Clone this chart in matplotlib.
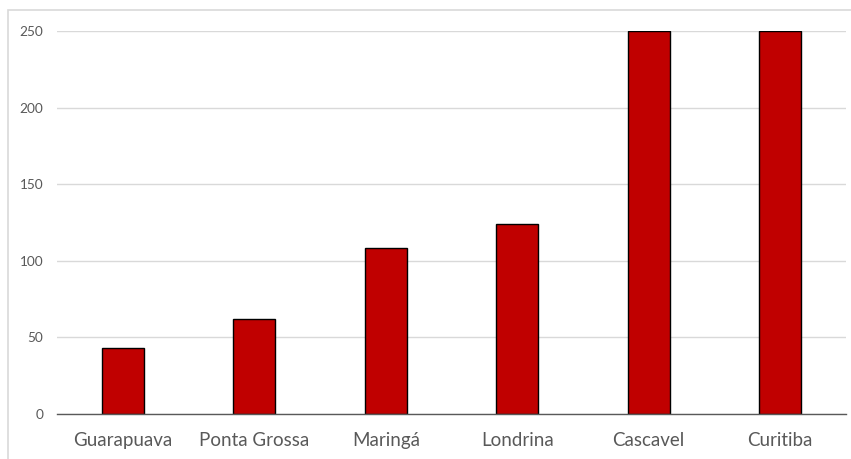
import matplotlib.pyplot as plt
from matplotlib.patches import Rectangle

cidades = ["Guarapuava", "Ponta Grossa", "Maringá", "Londrina", "Cascavel", "Curitiba"]
valores = [43, 62, 108.5, 124, 250, 250]
yticks = [0, 50, 100, 150, 200, 250]

W, H = 851, 459
fig = plt.figure(figsize=(W / 100, H / 100), dpi=100)
plt.rcParams['font.family'] = ['Lato', 'DejaVu Sans']

# moldura cinza clara (cortada na direita e embaixo)
fig.patches.append(Rectangle((8 / W, -0.1), 2, 1.1 - 10 / H, transform=fig.transFigure,
                             fill=False, edgecolor="#d9d9d9", linewidth=1.2))

ax = fig.add_axes([57.3 / W, 1 - 414 / H, (845.7 - 57.3) / W, (414 - 31) / H])
x = range(len(cidades))
ax.bar(x, valores, width=0.32, color="#C00000", edgecolor="black", linewidth=1, zorder=3)

ax.set_xlim(-0.5, len(cidades) - 0.5)
ax.set_ylim(0, 250)
ax.set_yticks(yticks)
ax.set_xticks(list(x))
ax.set_xticklabels(cidades, fontsize=13.5, color="#595959")
ax.tick_params(axis="y", labelsize=9.8, labelcolor="#595959", length=0, pad=10)
ax.tick_params(axis="x", length=0, pad=13)
ax.grid(axis="y", color="#d9d9d9", linewidth=1, zorder=0)
for s in ["top", "right", "left"]:
    ax.spines[s].set_visible(False)
ax.spines["bottom"].set_color("#595959")
ax.spines["bottom"].set_linewidth(1)
ax.spines["bottom"].set_zorder(4)

fig.savefig("out.png", dpi=100)
